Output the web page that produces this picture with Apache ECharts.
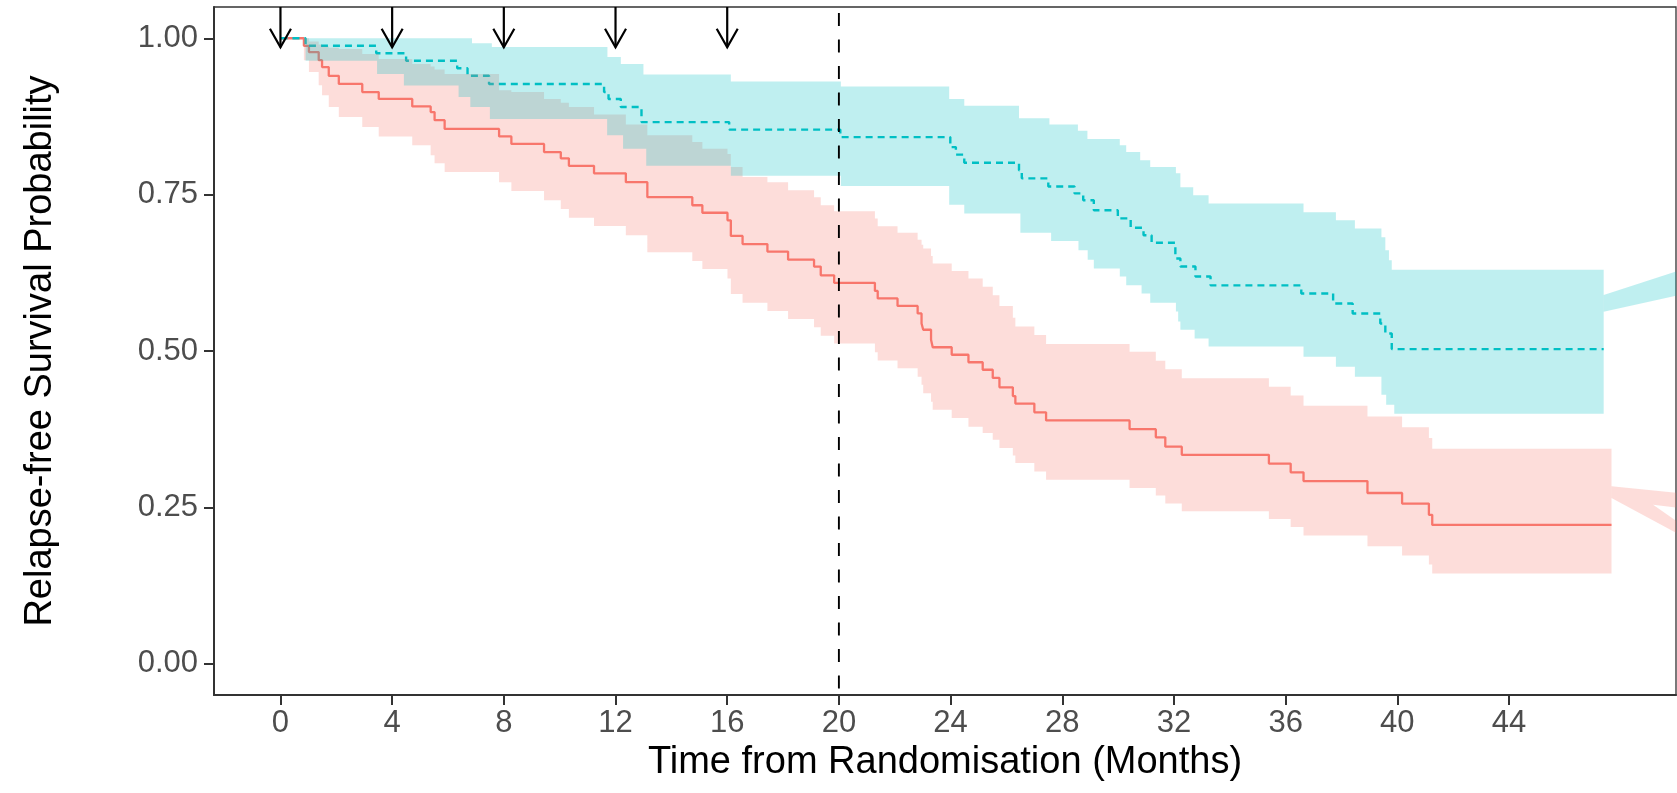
<!DOCTYPE html>
<html><head><meta charset="utf-8">
<script src="https://cdn.jsdelivr.net/npm/echarts@6/dist/echarts.min.js"></script>
<style>html,body{margin:0;padding:0;background:#fff}#c{width:1677px;height:793px}</style>
</head><body><div id="c"></div><script>
// ---- tick labels ----
const xTicks = [0, 4, 8, 12, 16, 20, 24, 28, 32, 36, 40, 44];
const yTicks = [0, 0.25, 0.5, 0.75, 1];
const xMin = -2.38, xMax = 49.98, yMin = -0.05, yMax = 1.05;

// ---- red group (solid) : event times, survival, CI ----
const redT  = [0, 0.84, 1.02, 1.37, 1.49, 1.73, 2.09, 2.93, 3.52, 4.72, 5.38, 5.52, 5.88, 7.83, 8.27, 9.44, 10.04, 10.33, 11.23, 12.37, 13.14, 14.75, 15.11, 16.01, 16.13, 16.55, 17.44, 18.18, 19.11, 19.35, 19.83, 21.29, 21.39, 22.10, 22.82, 22.96, 23.02, 23.30, 23.36, 24.04, 24.64, 25.15, 25.51, 25.75, 26.23, 26.32, 27.00, 27.42, 30.41, 31.35, 31.69, 32.28, 35.40, 36.18, 36.64, 38.93, 40.17, 41.13, 41.25, 47.67];
const redS  = [1.000, 0.988, 0.978, 0.965, 0.954, 0.940, 0.927, 0.914, 0.903, 0.891, 0.882, 0.869, 0.855, 0.843, 0.831, 0.818, 0.808, 0.796, 0.784, 0.770, 0.746, 0.733, 0.721, 0.709, 0.684, 0.671, 0.659, 0.646, 0.635, 0.621, 0.609, 0.596, 0.584, 0.572, 0.560, 0.544, 0.534, 0.518, 0.506, 0.494, 0.482, 0.470, 0.457, 0.442, 0.428, 0.416, 0.402, 0.389, 0.375, 0.362, 0.347, 0.334, 0.320, 0.306, 0.292, 0.273, 0.256, 0.238, 0.222, 0.222];
const redHi = [1.000, 1.000, 0.995, 0.990, 0.987, 0.985, 0.983, 0.975, 0.967, 0.959, 0.955, 0.950, 0.943, 0.917, 0.914, 0.903, 0.897, 0.890, 0.878, 0.862, 0.845, 0.834, 0.8235, 0.815, 0.794, 0.778, 0.770, 0.757, 0.746, 0.733, 0.7235, 0.712, 0.6995, 0.689, 0.678, 0.670, 0.664, 0.6517, 0.640, 0.628, 0.616, 0.6027, 0.589, 0.572, 0.553, 0.539, 0.5256, 0.511, 0.499, 0.4846, 0.4709, 0.4565, 0.443, 0.4288, 0.4123, 0.3953, 0.378, 0.361, 0.3437, 0.3437];
const redLo = [1.000, 0.965, 0.946, 0.925, 0.909, 0.890, 0.874, 0.858, 0.843, 0.829, 0.813, 0.800, 0.786, 0.770, 0.756, 0.741, 0.727, 0.713, 0.700, 0.685, 0.658, 0.644, 0.631, 0.616, 0.591, 0.577, 0.564, 0.551, 0.538, 0.5245, 0.512, 0.498, 0.485, 0.4725, 0.459, 0.446, 0.4325, 0.419, 0.406, 0.3927, 0.379, 0.369, 0.358, 0.345, 0.333, 0.321, 0.3075, 0.294, 0.281, 0.269, 0.256, 0.2437, 0.2315, 0.2188, 0.2049, 0.1878, 0.173, 0.1586, 0.1442, 0.1442];

// ---- cyan group (dashed) ----
const cyanT = [0, 0.90, 3.43, 4.50, 6.33, 6.70, 7.47, 11.59, 11.75, 12.19, 12.93, 16.07, 20.05, 23.99, 24.19, 24.49, 26.45, 26.55, 27.50, 28.44, 28.75, 29.13, 29.99, 30.45, 30.91, 31.20, 32.05, 32.23, 32.77, 33.31, 36.56, 37.70, 38.40, 39.39, 39.57, 39.80, 47.39];
const cyanS = [1.000, 0.988, 0.976, 0.964, 0.952, 0.940, 0.927, 0.914, 0.903, 0.890, 0.866, 0.854, 0.842, 0.826, 0.814, 0.801, 0.789, 0.776, 0.763, 0.752, 0.741, 0.725, 0.712, 0.697, 0.685, 0.673, 0.648, 0.635, 0.619, 0.605, 0.592, 0.576, 0.560, 0.544, 0.528, 0.503, 0.503];
const cyanHiT = [0, 6.86, 7.57, 11.71, 12.19, 13.0, 16.13, 20.07, 23.95, 24.49, 26.45, 27.54, 28.56, 28.9, 30.06, 30.29, 30.79, 31.15, 32.07, 32.23, 32.69, 33.24, 36.64, 37.8, 38.48, 39.43, 39.57, 39.7, 39.8, 47.39];
const cyanHi  = [1.0, 0.992, 0.986, 0.970, 0.959, 0.942, 0.931, 0.923, 0.903, 0.892, 0.872, 0.862, 0.852, 0.839, 0.829, 0.818, 0.805, 0.794, 0.784, 0.762, 0.749, 0.736, 0.722, 0.709, 0.696, 0.682, 0.661, 0.645, 0.630, 0.630];
const cyanLoT = [0, 0.9, 3.46, 4.42, 6.38, 6.8, 7.5, 11.7, 12.27, 13.1, 16.13, 20.07, 23.95, 24.49, 26.5, 27.6, 28.58, 28.91, 29.13, 30.06, 30.29, 30.84, 31.15, 32.07, 32.15, 32.23, 32.74, 33.24, 36.64, 37.8, 38.48, 39.43, 39.6, 39.89, 47.39];
const cyanLo  = [1.0, 0.964, 0.943, 0.9245, 0.906, 0.890, 0.871, 0.845, 0.8235, 0.796, 0.780, 0.764, 0.734, 0.720, 0.689, 0.676, 0.661, 0.646, 0.632, 0.619, 0.605, 0.592, 0.577, 0.563, 0.547, 0.534, 0.520, 0.507, 0.491, 0.475, 0.459, 0.430, 0.414, 0.3995, 0.3995];

// ---- ribbon tails running off the right edge ----
const cyanWedge = [[47.39, 0.5895], [50.1, 0.6289], [50.1, 0.5895], [47.39, 0.5628]];
const redWedge  = [[47.67, 0.2836], [50.1, 0.273], [50.1, 0.249], [49.16, 0.2543], [50.1, 0.225], [50.1, 0.2065], [47.67, 0.265]];

// ---- annotations ----
const arrowT = [0, 4, 8, 12, 16];
const arrowTip = 0.9856;
const cutoffT = 20;

const RED = '#F8766D', CYAN = '#00BFC4';
const FONT = '"Liberation Sans", Arial, sans-serif';

function stepPts(api, T, V) {
  const pts = [];
  for (let i = 0; i < T.length; i++) {
    pts.push(api.coord([T[i], V[i]]));
    if (i + 1 < T.length) pts.push(api.coord([T[i + 1], V[i]]));
  }
  return pts;
}
function bandRender(hiT, hi, loT, lo, fill) {
  return function (params, api) {
    const up = stepPts(api, hiT, hi);
    const dn = stepPts(api, loT, lo).reverse();
    return { type: 'polygon', shape: { points: up.concat(dn) }, style: { fill: fill } };
  };
}
function polyRender(poly, fill) {
  return function (params, api) {
    return { type: 'polygon', shape: { points: poly.map(p => api.coord(p)) }, style: { fill: fill } };
  };
}
const zip = (T, V) => T.map((t, i) => [t, V[i]]);

const chart = echarts.init(document.getElementById('c'), null, { renderer: 'canvas' });
chart.setOption({
  animation: false,
  backgroundColor: '#fff',
  grid: { left: 214, right: 1, top: 7, bottom: 98, show: true, borderColor: '#333', borderWidth: 1.3, backgroundColor: 'transparent' },
  xAxis: {
    type: 'value', min: xMin, max: xMax,
    name: 'Time from Randomisation (Months)', nameLocation: 'middle', nameGap: 48,
    nameTextStyle: { fontSize: 38, color: '#000', fontFamily: FONT },
    axisLine: { show: true, onZero: false, lineStyle: { color: '#333', width: 2 } },
    axisTick: { show: true, length: 10, customValues: xTicks, lineStyle: { color: '#333', width: 2 } },
    axisLabel: { customValues: xTicks, fontSize: 31, color: '#4D4D4D', fontFamily: FONT, margin: 13 },
    splitLine: { show: false }
  },
  yAxis: {
    type: 'value', min: yMin, max: yMax,
    name: 'Relapse-free Survival Probability', nameLocation: 'middle', nameGap: 154, nameRotate: 90,
    nameTextStyle: { fontSize: 38, color: '#000', fontFamily: FONT },
    axisLine: { show: true, onZero: false, lineStyle: { color: '#333', width: 2 } },
    axisTick: { show: true, length: 10, customValues: yTicks, lineStyle: { color: '#333', width: 2 } },
    axisLabel: { customValues: yTicks, fontSize: 31, color: '#4D4D4D', fontFamily: FONT, margin: 16,
      formatter: v => Number(v).toFixed(2) },
    splitLine: { show: false }
  },
  series: [
    { type: 'line', step: 'end', symbol: 'none', data: zip(redT, redS), clip: true,
      lineStyle: { color: RED, width: 2.3 }, z: 2 },
    { type: 'line', step: 'end', symbol: 'none', data: zip(cyanT, cyanS), clip: true,
      lineStyle: { color: CYAN, width: 2.4, type: [7, 5] }, z: 2 },
    { type: 'custom', data: [[0, 1]], clip: true, z: 3,
      renderItem: bandRender(redT, redHi, redT, redLo, 'rgba(248,118,109,0.25)') },
    { type: 'custom', data: [[0, 1]], clip: true, z: 3,
      renderItem: polyRender(redWedge, 'rgba(248,118,109,0.25)') },
    { type: 'custom', data: [[0, 1]], clip: true, z: 4,
      renderItem: bandRender(cyanHiT, cyanHi, cyanLoT, cyanLo, 'rgba(0,191,196,0.25)') },
    { type: 'custom', data: [[0, 1]], clip: true, z: 4,
      renderItem: polyRender(cyanWedge, 'rgba(0,191,196,0.25)') },
    { type: 'line', symbol: 'none', data: [[cutoffT, yMax], [cutoffT, yMin]], z: 5,
      lineStyle: { color: '#000', width: 1.9, type: [13, 13.5], dashOffset: 20.5 } },
    { type: 'custom', data: arrowT.map(t => [t, arrowTip]), z: 6,
      renderItem: function (params, api) {
        const tip = api.coord([api.value(0), api.value(1)]);
        const top = api.coord([api.value(0), yMax]);
        return { type: 'group', children: [
          { type: 'line', shape: { x1: tip[0], y1: top[1], x2: tip[0], y2: tip[1] }, style: { stroke: '#000', lineWidth: 2.2 } },
          { type: 'polyline', shape: { points: [[tip[0] - 10.5, tip[1] - 18.5], [tip[0], tip[1]], [tip[0] + 10.5, tip[1] - 18.5]] },
            style: { stroke: '#000', lineWidth: 2.2, fill: null } }
        ] };
      } }
  ]
});
</script></body></html>
